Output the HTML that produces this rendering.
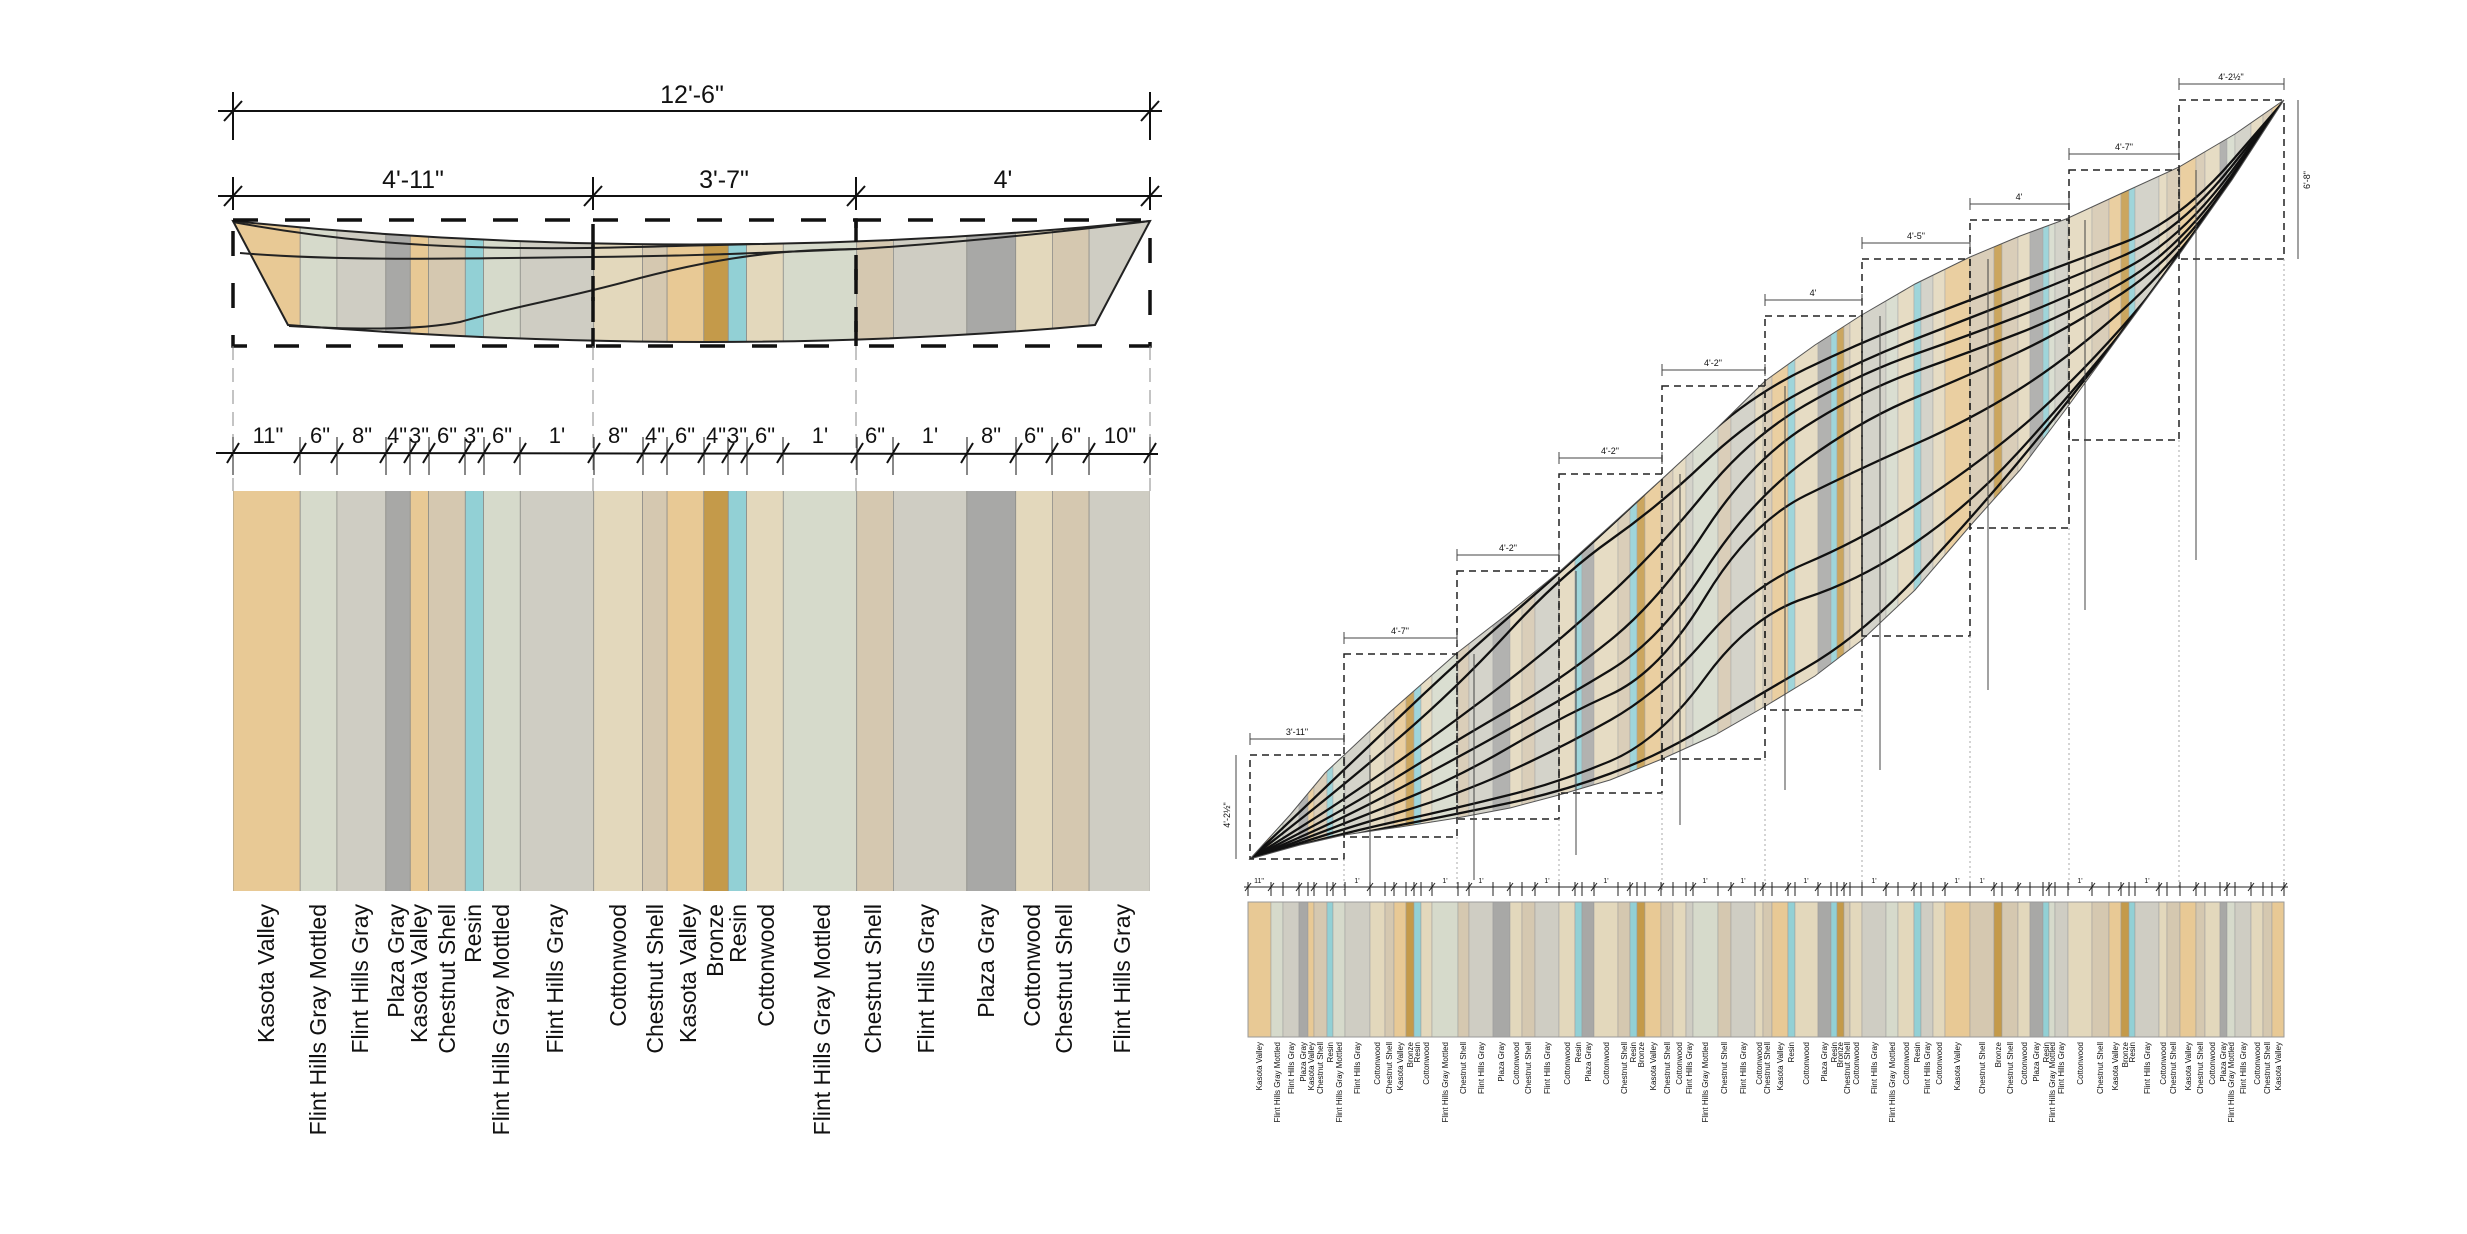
<!DOCTYPE html>
<html><head><meta charset="utf-8"><style>
html,body{margin:0;padding:0;background:#fff;}
svg{display:block;}
.kv{fill:#e8c995}.fm{fill:#d6dacb}.fg{fill:#cfcdc3}.pg{fill:#a8a8a6}.cs{fill:#d5c8b0}.r{fill:#92d0d5}.cw{fill:#e3d8bc}.b{fill:#c49a4a}
text{font-family:"Liberation Sans",Arial,sans-serif;fill:#111;}
.L{font-size:23px}.S{font-size:8px}.D{font-size:25px}.d{font-size:22px}.t{font-size:9px}.u{font-size:7px}
</style></head><body>
<svg width="2467" height="1234" viewBox="0 0 2467 1234" xmlns="http://www.w3.org/2000/svg">
<defs>
<g id="ls" stroke="#8f8f8a" stroke-width="0.8">
<rect class="kv" x="233" y="0" width="67.2" height="1234"/>
<rect class="fm" x="300.2" y="0" width="36.7" height="1234"/>
<rect class="fg" x="336.9" y="0" width="48.9" height="1234"/>
<rect class="pg" x="385.8" y="0" width="24.5" height="1234"/>
<rect class="kv" x="410.3" y="0" width="18.3" height="1234"/>
<rect class="cs" x="428.6" y="0" width="36.7" height="1234"/>
<rect class="r" x="465.3" y="0" width="18.3" height="1234"/>
<rect class="fm" x="483.6" y="0" width="36.7" height="1234"/>
<rect class="fg" x="520.3" y="0" width="73.4" height="1234"/>
<rect class="cw" x="593.7" y="0" width="48.9" height="1234"/>
<rect class="cs" x="642.6" y="0" width="24.5" height="1234"/>
<rect class="kv" x="667.1" y="0" width="36.7" height="1234"/>
<rect class="b" x="703.8" y="0" width="24.5" height="1234"/>
<rect class="r" x="728.3" y="0" width="18.3" height="1234"/>
<rect class="cw" x="746.6" y="0" width="36.7" height="1234"/>
<rect class="fm" x="783.3" y="0" width="73.4" height="1234"/>
<rect class="cs" x="856.7" y="0" width="36.7" height="1234"/>
<rect class="fg" x="893.4" y="0" width="73.4" height="1234"/>
<rect class="pg" x="966.8" y="0" width="48.9" height="1234"/>
<rect class="cw" x="1015.7" y="0" width="36.7" height="1234"/>
<rect class="cs" x="1052.4" y="0" width="36.7" height="1234"/>
<rect class="fg" x="1089.1" y="0" width="61.1" height="1234"/>
</g>
<g id="rs" stroke="#999" stroke-width="0.5">
<rect class="kv" x="1248" y="0" width="23" height="1234"/><rect class="fm" x="1271" y="0" width="12" height="1234"/><rect class="fg" x="1283" y="0" width="16" height="1234"/><rect class="pg" x="1299" y="0" width="9" height="1234"/><rect class="kv" x="1308" y="0" width="6" height="1234"/><rect class="cs" x="1314" y="0" width="13" height="1234"/><rect class="r" x="1327" y="0" width="6" height="1234"/><rect class="fm" x="1333" y="0" width="12" height="1234"/><rect class="fg" x="1345" y="0" width="25" height="1234"/><rect class="cw" x="1370" y="0" width="15" height="1234"/><rect class="cs" x="1385" y="0" width="9" height="1234"/><rect class="kv" x="1394" y="0" width="12" height="1234"/><rect class="b" x="1406" y="0" width="8" height="1234"/><rect class="r" x="1414" y="0" width="7" height="1234"/><rect class="cw" x="1421" y="0" width="11" height="1234"/><rect class="fm" x="1432" y="0" width="26" height="1234"/><rect class="cs" x="1458" y="0" width="11" height="1234"/><rect class="fg" x="1469" y="0" width="24" height="1234"/><rect class="pg" x="1493" y="0" width="17" height="1234"/><rect class="cw" x="1510" y="0" width="12" height="1234"/><rect class="cs" x="1522" y="0" width="13" height="1234"/><rect class="fg" x="1535" y="0" width="24" height="1234"/><rect class="cw" x="1559" y="0" width="16" height="1234"/><rect class="r" x="1575" y="0" width="7" height="1234"/><rect class="pg" x="1582" y="0" width="12" height="1234"/><rect class="cw" x="1594" y="0" width="24" height="1234"/><rect class="cs" x="1618" y="0" width="12" height="1234"/><rect class="r" x="1630" y="0" width="7" height="1234"/><rect class="b" x="1637" y="0" width="8" height="1234"/><rect class="kv" x="1645" y="0" width="16" height="1234"/><rect class="cs" x="1661" y="0" width="12" height="1234"/><rect class="cw" x="1673" y="0" width="13" height="1234"/><rect class="fg" x="1686" y="0" width="7" height="1234"/><rect class="fm" x="1693" y="0" width="25" height="1234"/><rect class="cs" x="1718" y="0" width="13" height="1234"/><rect class="fg" x="1731" y="0" width="24" height="1234"/><rect class="cw" x="1755" y="0" width="8" height="1234"/><rect class="cs" x="1763" y="0" width="9" height="1234"/><rect class="kv" x="1772" y="0" width="16" height="1234"/><rect class="r" x="1788" y="0" width="7" height="1234"/><rect class="cw" x="1795" y="0" width="23" height="1234"/><rect class="pg" x="1818" y="0" width="13" height="1234"/><rect class="r" x="1831" y="0" width="6" height="1234"/><rect class="b" x="1837" y="0" width="7" height="1234"/><rect class="cs" x="1844" y="0" width="6" height="1234"/><rect class="cw" x="1850" y="0" width="12" height="1234"/><rect class="fg" x="1862" y="0" width="24" height="1234"/><rect class="fm" x="1886" y="0" width="12" height="1234"/><rect class="cw" x="1898" y="0" width="16" height="1234"/><rect class="r" x="1914" y="0" width="7" height="1234"/><rect class="fg" x="1921" y="0" width="12" height="1234"/><rect class="cw" x="1933" y="0" width="12" height="1234"/><rect class="kv" x="1945" y="0" width="25" height="1234"/><rect class="cs" x="1970" y="0" width="24" height="1234"/><rect class="b" x="1994" y="0" width="8" height="1234"/><rect class="cs" x="2002" y="0" width="16" height="1234"/><rect class="cw" x="2018" y="0" width="12" height="1234"/><rect class="pg" x="2030" y="0" width="13" height="1234"/><rect class="r" x="2043" y="0" width="6" height="1234"/><rect class="fm" x="2049" y="0" width="6" height="1234"/><rect class="fg" x="2055" y="0" width="13" height="1234"/><rect class="cw" x="2068" y="0" width="24" height="1234"/><rect class="cs" x="2092" y="0" width="17" height="1234"/><rect class="kv" x="2109" y="0" width="12" height="1234"/><rect class="b" x="2121" y="0" width="8" height="1234"/><rect class="r" x="2129" y="0" width="6" height="1234"/><rect class="fg" x="2135" y="0" width="24" height="1234"/><rect class="cw" x="2159" y="0" width="8" height="1234"/><rect class="cs" x="2167" y="0" width="13" height="1234"/><rect class="kv" x="2180" y="0" width="16" height="1234"/><rect class="cs" x="2196" y="0" width="9" height="1234"/><rect class="cw" x="2205" y="0" width="15" height="1234"/><rect class="pg" x="2220" y="0" width="7" height="1234"/><rect class="fm" x="2227" y="0" width="8" height="1234"/><rect class="fg" x="2235" y="0" width="16" height="1234"/><rect class="cw" x="2251" y="0" width="12" height="1234"/><rect class="cs" x="2263" y="0" width="9" height="1234"/><rect class="kv" x="2272" y="0" width="12" height="1234"/>
</g>
<clipPath id="boat"><path d="M233,221 Q692,268 1150,221 L1095,325 Q720,359 288,325 Z"/></clipPath>
<clipPath id="lbar"><rect x="233" y="491" width="917" height="400"/></clipPath>
<clipPath id="rbar"><rect x="1248" y="902" width="1036" height="135"/></clipPath>
<clipPath id="lens"><path id="lensp" d="M1250,859 L1290,815 1325,773 1390,712 1457,653 1510,612 1559,572 1610,526 1662,479 1715,430 1765,381 1815,345 1860,316 1915,284 1970,257 2020,236 2066,219 2120,194 2179,167 2235,134 2284,100 L2232,180 2179,255 2120,335 2066,409 2020,470 1970,526 1915,590 1862,640 1815,676 1764,707 1715,735 1662,759 1610,780 1559,795 1510,808 1457,818 1400,827 1344,835 1300,845 Z"/></clipPath>
</defs>

<!-- LEFT -->
<g stroke="#111" stroke-width="2" fill="none">
<line x1="218" y1="111" x2="1162" y2="111"/>
<line x1="233" y1="92" x2="233" y2="140"/><line x1="1150" y1="92" x2="1150" y2="140"/>
<line x1="224" y1="121" x2="242" y2="101"/><line x1="1141" y1="121" x2="1159" y2="101"/>
<line x1="218" y1="196" x2="1162" y2="196"/>
<line x1="233" y1="177" x2="233" y2="210"/><line x1="593" y1="177" x2="593" y2="210"/><line x1="856" y1="177" x2="856" y2="210"/><line x1="1150" y1="177" x2="1150" y2="210"/>
<line x1="224" y1="206" x2="242" y2="186"/><line x1="584" y1="206" x2="602" y2="186"/><line x1="847" y1="206" x2="865" y2="186"/><line x1="1141" y1="206" x2="1159" y2="186"/>
</g>
<text class="D" x="692" y="103" text-anchor="middle">12'-6"</text>
<text class="D" x="413" y="188" text-anchor="middle">4'-11"</text>
<text class="D" x="724" y="188" text-anchor="middle">3'-7"</text>
<text class="D" x="1003" y="188" text-anchor="middle">4'</text>

<use href="#ls" clip-path="url(#boat)"/>
<g fill="none" stroke="#222" stroke-width="2">
<path d="M233,221 Q692,268 1150,221 L1095,325 Q720,359 288,325 Z"/>
<path d="M233,222 C330,240 420,247 520,248 C600,249 660,246 760,244"/>
<path d="M240,253 C350,262 480,258 592,257 C700,256 780,252 857,249 C960,243 1060,232 1150,221"/>
<path d="M289,326 C360,330 420,330 460,322 C520,305 560,300 640,278 C740,252 800,250 857,249"/>
</g>
<g fill="none" stroke="#111" stroke-width="3.5" stroke-dasharray="25,27">
<rect x="233" y="220" width="360" height="126"/>
<rect x="593" y="220" width="263" height="126"/>
<rect x="856" y="220" width="294" height="126"/>
</g>
<g stroke="#888" stroke-width="1" stroke-dasharray="14,8">
<line x1="233" y1="346" x2="233" y2="491"/><line x1="593" y1="346" x2="593" y2="491"/><line x1="856" y1="346" x2="856" y2="491"/><line x1="1150" y1="346" x2="1150" y2="491"/>
</g>
<g stroke="#111" stroke-width="2" fill="none">
<line x1="216" y1="453" x2="1158" y2="454"/>
<path d="M233,437V475M300,437V475M337,437V475M386,437V475M410,437V475M429,437V475M465,437V475M484,437V475M520,437V475M594,437V475M643,437V475M667,437V475M704,437V475M728,437V475M747,437V475M783,437V475M857,437V475M893,437V475M967,437V475M1016,437V475M1052,437V475M1089,437V475M1150,437V475" stroke-width="1"/>
<path d="M227,463l12,-20M294,463l12,-20M331,463l12,-20M380,463l12,-20M404,463l12,-20M423,463l12,-20M459,463l12,-20M478,463l12,-20M514,463l12,-20M588,463l12,-20M637,463l12,-20M661,463l12,-20M698,463l12,-20M722,463l12,-20M741,463l12,-20M777,463l12,-20M851,463l12,-20M887,463l12,-20M961,463l12,-20M1010,463l12,-20M1046,463l12,-20M1083,463l12,-20M1144,463l12,-20"/>
</g>
<g class="d" text-anchor="middle">
<text x="268" y="443">11"</text><text x="320" y="443">6"</text><text x="362" y="443">8"</text><text x="397" y="443">4"</text><text x="419" y="443">3"</text><text x="447" y="443">6"</text><text x="474" y="443">3"</text><text x="502" y="443">6"</text><text x="557" y="443">1'</text>
<text x="618" y="443">8"</text><text x="655" y="443">4"</text><text x="685" y="443">6"</text><text x="716" y="443">4"</text><text x="737" y="443">3"</text><text x="765" y="443">6"</text><text x="820" y="443">1'</text>
<text x="875" y="443">6"</text><text x="930" y="443">1'</text><text x="991" y="443">8"</text><text x="1034" y="443">6"</text><text x="1071" y="443">6"</text><text x="1120" y="443">10"</text>
</g>
<use href="#ls" clip-path="url(#lbar)"/>
<g class="L" text-anchor="end">
<text transform="translate(274,904) rotate(-90)">Kasota Valley</text>
<text transform="translate(326,904) rotate(-90)">Flint Hills Gray Mottled</text>
<text transform="translate(368,904) rotate(-90)">Flint Hills Gray</text>
<text transform="translate(404,904) rotate(-90)">Plaza Gray</text>
<text transform="translate(427,904) rotate(-90)">Kasota Valley</text>
<text transform="translate(455,904) rotate(-90)">Chestnut Shell</text>
<text transform="translate(481,904) rotate(-90)">Resin</text>
<text transform="translate(509,904) rotate(-90)">Flint Hills Gray Mottled</text>
<text transform="translate(563,904) rotate(-90)">Flint Hills Gray</text>
<text transform="translate(626,904) rotate(-90)">Cottonwood</text>
<text transform="translate(663,904) rotate(-90)">Chestnut Shell</text>
<text transform="translate(696,904) rotate(-90)">Kasota Valley</text>
<text transform="translate(723,904) rotate(-90)">Bronze</text>
<text transform="translate(746,904) rotate(-90)">Resin</text>
<text transform="translate(774,904) rotate(-90)">Cottonwood</text>
<text transform="translate(830,904) rotate(-90)">Flint Hills Gray Mottled</text>
<text transform="translate(881,904) rotate(-90)">Chestnut Shell</text>
<text transform="translate(934,904) rotate(-90)">Flint Hills Gray</text>
<text transform="translate(994,904) rotate(-90)">Plaza Gray</text>
<text transform="translate(1040,904) rotate(-90)">Cottonwood</text>
<text transform="translate(1072,904) rotate(-90)">Chestnut Shell</text>
<text transform="translate(1130,904) rotate(-90)">Flint Hills Gray</text>
</g>

<!-- RIGHT -->
<g opacity="0.88"><use href="#rs" clip-path="url(#lens)"/></g>
<g fill="none" stroke="#111" stroke-width="2.3" clip-path="url(#lens)">
<path d="M1250,859 L1297,814.5 Q1344,770 1400.5,716 Q1457,662 1509,617 Q1561,572 1610.5,526 Q1660,480 1705,438 Q1750,396 1805.5,369 Q1861,342 1915.5,321 Q1970,300 2018,282 Q2066,264 2122.5,243 Q2179,222 2231.5,161.5 L2284,101"/>
<path d="M1250,859 L1297,822 Q1344,785 1400.5,736.5 Q1457,688 1509,631.5 Q1561,575 1610.5,540 Q1660,505 1705,462 Q1750,419 1805.5,389.5 Q1861,360 1915.5,339 Q1970,318 2018,299 Q2066,280 2122.5,256 Q2179,232 2231.5,166.5 L2284,101"/>
<path d="M1250,859 L1297,829.5 Q1344,800 1400.5,760 Q1457,720 1509,680 Q1561,640 1610.5,594 Q1660,548 1705,492.5 Q1750,437 1805.5,405 Q1861,373 1915.5,354 Q1970,335 2018,316.5 Q2066,298 2122.5,270 Q2179,242 2231.5,171.5 L2284,101"/>
<path d="M1250,859 L1297,834.5 Q1344,810 1400.5,775 Q1457,740 1509,710 Q1561,680 1610.5,640 Q1660,600 1705,531 Q1750,462 1805.5,426.5 Q1861,391 1915.5,371.5 Q1970,352 2018,333.5 Q2066,315 2122.5,282.5 Q2179,250 2231.5,175.5 L2284,101"/>
<path d="M1250,859 L1297,838.5 Q1344,818 1400.5,788 Q1457,758 1509,729 Q1561,700 1610.5,670 Q1660,640 1705,570.5 Q1750,501 1805.5,460.5 Q1861,420 1915.5,397.5 Q1970,375 2018,352.5 Q2066,330 2122.5,293 Q2179,256 2231.5,178.5 L2284,101"/>
<path d="M1250,859 L1297,841.5 Q1344,824 1400.5,801 Q1457,778 1509,747.5 Q1561,717 1610.5,694.5 Q1660,672 1705,597.5 Q1750,523 1805.5,495.5 Q1861,468 1915.5,444 Q1970,420 2018,390 Q2066,360 2122.5,310 Q2179,260 2231.5,180.5 L2284,101"/>
<path d="M1250,859 L1297,844 Q1344,829 1400.5,812 Q1457,795 1509,771.5 Q1561,748 1610.5,720 Q1660,692 1705,639.5 Q1750,587 1805.5,563.5 Q1861,540 1915.5,505 Q1970,470 2018,430 Q2066,390 2122.5,326.5 Q2179,263 2231.5,182 L2284,101"/>
<path d="M1250,859 L1297,846 Q1344,833 1400.5,820.5 Q1457,808 1509,795 Q1561,782 1610.5,761 Q1660,740 1705,678 Q1750,616 1805.5,598 Q1861,580 1915.5,542.5 Q1970,505 2018,452.5 Q2066,400 2122.5,331 Q2179,262 2231.5,181.5 L2284,101"/>
<path d="M1250,859 L1297,847.5 Q1344,836 1400.5,825 Q1457,814 1509,803 Q1561,792 1610.5,773.5 Q1660,755 1705,727.5 Q1750,700 1805.5,668 Q1861,636 1915.5,578 Q1970,520 2018,462.5 Q2066,405 2122.5,330.5 Q2179,256 2231.5,178.5 L2284,101"/>
</g>
<use href="#lensp" fill="none" stroke="#555" stroke-width="1"/>
<g fill="none" stroke="#222" stroke-width="1.5" stroke-dasharray="7,5">
<rect x="1250" y="755" width="94" height="104"/>
<rect x="1344" y="654" width="113" height="183"/>
<rect x="1457" y="571" width="102" height="248"/>
<rect x="1559" y="474" width="103" height="319"/>
<rect x="1662" y="386" width="103" height="373"/>
<rect x="1765" y="316" width="97" height="394"/>
<rect x="1862" y="259" width="108" height="377"/>
<rect x="1970" y="220" width="99" height="308"/>
<rect x="2069" y="170" width="110" height="270"/>
<rect x="2179" y="100" width="105" height="159"/>
</g>
<g stroke="#444" stroke-width="1" fill="none">
<path d="M1250,739H1344M1344,638H1457M1457,555H1559M1559,458H1662M1662,370H1765M1765,300H1862M1862,243H1970M1970,204H2069M2069,154H2179M2179,84H2284"/>
<path d="M1250,733V745M1344,733V745M1344,632V644M1457,632V644M1457,549V561M1559,549V561M1559,452V464M1662,452V464M1662,364V376M1765,364V376M1765,294V306M1862,294V306M1862,237V249M1970,237V249M1970,198V210M2069,198V210M2069,148V160M2179,148V160M2179,78V90M2284,78V90"/>
<path d="M1236,755V859M2298,100V259M1370,755V895M1474,654V880M1576,571V855M1680,474V825M1785,386V790M1880,316V770M1988,259V690M2085,220V610M2196,170V560"/>
</g>
<g stroke="#aaa" stroke-width="1" stroke-dasharray="2,3">
<path d="M1344,859V890M1457,837V890M1559,819V890M1662,793V890M1765,759V890M1862,710V890M1970,636V890M2069,528V890M2179,440V890M2284,259V890"/>
</g>
<g class="t" text-anchor="middle">
<text x="1297" y="735">3'-11"</text><text x="1400" y="634">4'-7"</text><text x="1508" y="551">4'-2"</text><text x="1610" y="454">4'-2"</text><text x="1713" y="366">4'-2"</text><text x="1813" y="296">4'</text><text x="1916" y="239">4'-5"</text><text x="2019" y="200">4'</text><text x="2124" y="150">4'-7"</text><text x="2231" y="80">4'-2½"</text>
<text transform="translate(1230,815) rotate(-90)">4'-2½"</text><text transform="translate(2310,180) rotate(-90)">6'-8"</text>
</g>
<g stroke="#222" stroke-width="1" fill="none">
<line x1="1244" y1="887" x2="2288" y2="887"/>
<path d="M1248,882V896M1271,882V896M1283,882V896M1299,882V896M1308,882V896M1314,882V896M1327,882V896M1333,882V896M1345,882V896M1370,882V896M1385,882V896M1394,882V896M1406,882V896M1414,882V896M1421,882V896M1432,882V896M1458,882V896M1469,882V896M1493,882V896M1510,882V896M1522,882V896M1535,882V896M1559,882V896M1575,882V896M1582,882V896M1594,882V896M1618,882V896M1630,882V896M1637,882V896M1645,882V896M1661,882V896M1673,882V896M1686,882V896M1693,882V896M1718,882V896M1731,882V896M1755,882V896M1763,882V896M1772,882V896M1788,882V896M1795,882V896M1818,882V896M1831,882V896M1837,882V896M1844,882V896M1850,882V896M1862,882V896M1886,882V896M1898,882V896M1914,882V896M1921,882V896M1933,882V896M1945,882V896M1970,882V896M1994,882V896M2002,882V896M2018,882V896M2030,882V896M2043,882V896M2049,882V896M2055,882V896M2068,882V896M2092,882V896M2109,882V896M2121,882V896M2129,882V896M2135,882V896M2159,882V896M2167,882V896M2180,882V896M2196,882V896M2205,882V896M2220,882V896M2227,882V896M2235,882V896M2251,882V896M2263,882V896M2272,882V896M2284,882V896"/>
<path d="M1245,891l6,-8M1268,891l6,-8M1296,891l6,-8M1311,891l6,-8M1330,891l6,-8M1367,891l6,-8M1391,891l6,-8M1411,891l6,-8M1429,891l6,-8M1466,891l6,-8M1507,891l6,-8M1532,891l6,-8M1572,891l6,-8M1591,891l6,-8M1627,891l6,-8M1658,891l6,-8M1690,891l6,-8M1728,891l6,-8M1760,891l6,-8M1785,891l6,-8M1815,891l6,-8M1841,891l6,-8M1883,891l6,-8M1911,891l6,-8M1942,891l6,-8M1991,891l6,-8M2015,891l6,-8M2046,891l6,-8M2089,891l6,-8M2118,891l6,-8M2156,891l6,-8M2193,891l6,-8M2224,891l6,-8M2248,891l6,-8M2281,891l6,-8"/>
</g>
<g class="u" text-anchor="middle"><text x="1259" y="883">11"</text><text x="1357" y="883">1'</text><text x="1445" y="883">1'</text><text x="1481" y="883">1'</text><text x="1547" y="883">1'</text><text x="1606" y="883">1'</text><text x="1705" y="883">1'</text><text x="1743" y="883">1'</text><text x="1806" y="883">1'</text><text x="1874" y="883">1'</text><text x="1957" y="883">1'</text><text x="1982" y="883">1'</text><text x="2080" y="883">1'</text><text x="2147" y="883">1'</text></g>
<use href="#rs" clip-path="url(#rbar)"/>
<rect x="1248" y="902" width="1036" height="135" fill="none" stroke="#999" stroke-width="1"/>
<g class="S" text-anchor="end">
<text transform="translate(1262,1042) rotate(-90)">Kasota Valley</text>
<text transform="translate(1280,1042) rotate(-90)">Flint Hills Gray Mottled</text>
<text transform="translate(1294,1042) rotate(-90)">Flint Hills Gray</text>
<text transform="translate(1306,1042) rotate(-90)">Plaza Gray</text>
<text transform="translate(1314,1042) rotate(-90)">Kasota Valley</text>
<text transform="translate(1323,1042) rotate(-90)">Chestnut Shell</text>
<text transform="translate(1333,1042) rotate(-90)">Resin</text>
<text transform="translate(1342,1042) rotate(-90)">Flint Hills Gray Mottled</text>
<text transform="translate(1360,1042) rotate(-90)">Flint Hills Gray</text>
<text transform="translate(1380,1042) rotate(-90)">Cottonwood</text>
<text transform="translate(1392,1042) rotate(-90)">Chestnut Shell</text>
<text transform="translate(1403,1042) rotate(-90)">Kasota Valley</text>
<text transform="translate(1413,1042) rotate(-90)">Bronze</text>
<text transform="translate(1420,1042) rotate(-90)">Resin</text>
<text transform="translate(1429,1042) rotate(-90)">Cottonwood</text>
<text transform="translate(1448,1042) rotate(-90)">Flint Hills Gray Mottled</text>
<text transform="translate(1466,1042) rotate(-90)">Chestnut Shell</text>
<text transform="translate(1484,1042) rotate(-90)">Flint Hills Gray</text>
<text transform="translate(1504,1042) rotate(-90)">Plaza Gray</text>
<text transform="translate(1519,1042) rotate(-90)">Cottonwood</text>
<text transform="translate(1531,1042) rotate(-90)">Chestnut Shell</text>
<text transform="translate(1550,1042) rotate(-90)">Flint Hills Gray</text>
<text transform="translate(1570,1042) rotate(-90)">Cottonwood</text>
<text transform="translate(1581,1042) rotate(-90)">Resin</text>
<text transform="translate(1591,1042) rotate(-90)">Plaza Gray</text>
<text transform="translate(1609,1042) rotate(-90)">Cottonwood</text>
<text transform="translate(1627,1042) rotate(-90)">Chestnut Shell</text>
<text transform="translate(1636,1042) rotate(-90)">Resin</text>
<text transform="translate(1644,1042) rotate(-90)">Bronze</text>
<text transform="translate(1656,1042) rotate(-90)">Kasota Valley</text>
<text transform="translate(1670,1042) rotate(-90)">Chestnut Shell</text>
<text transform="translate(1682,1042) rotate(-90)">Cottonwood</text>
<text transform="translate(1692,1042) rotate(-90)">Flint Hills Gray</text>
<text transform="translate(1708,1042) rotate(-90)">Flint Hills Gray Mottled</text>
<text transform="translate(1727,1042) rotate(-90)">Chestnut Shell</text>
<text transform="translate(1746,1042) rotate(-90)">Flint Hills Gray</text>
<text transform="translate(1762,1042) rotate(-90)">Cottonwood</text>
<text transform="translate(1770,1042) rotate(-90)">Chestnut Shell</text>
<text transform="translate(1783,1042) rotate(-90)">Kasota Valley</text>
<text transform="translate(1794,1042) rotate(-90)">Resin</text>
<text transform="translate(1809,1042) rotate(-90)">Cottonwood</text>
<text transform="translate(1827,1042) rotate(-90)">Plaza Gray</text>
<text transform="translate(1837,1042) rotate(-90)">Resin</text>
<text transform="translate(1843,1042) rotate(-90)">Bronze</text>
<text transform="translate(1850,1042) rotate(-90)">Chestnut Shell</text>
<text transform="translate(1859,1042) rotate(-90)">Cottonwood</text>
<text transform="translate(1877,1042) rotate(-90)">Flint Hills Gray</text>
<text transform="translate(1895,1042) rotate(-90)">Flint Hills Gray Mottled</text>
<text transform="translate(1909,1042) rotate(-90)">Cottonwood</text>
<text transform="translate(1920,1042) rotate(-90)">Resin</text>
<text transform="translate(1930,1042) rotate(-90)">Flint Hills Gray</text>
<text transform="translate(1942,1042) rotate(-90)">Cottonwood</text>
<text transform="translate(1960,1042) rotate(-90)">Kasota Valley</text>
<text transform="translate(1985,1042) rotate(-90)">Chestnut Shell</text>
<text transform="translate(2001,1042) rotate(-90)">Bronze</text>
<text transform="translate(2013,1042) rotate(-90)">Chestnut Shell</text>
<text transform="translate(2027,1042) rotate(-90)">Cottonwood</text>
<text transform="translate(2039,1042) rotate(-90)">Plaza Gray</text>
<text transform="translate(2049,1042) rotate(-90)">Resin</text>
<text transform="translate(2055,1042) rotate(-90)">Flint Hills Gray Mottled</text>
<text transform="translate(2064,1042) rotate(-90)">Flint Hills Gray</text>
<text transform="translate(2083,1042) rotate(-90)">Cottonwood</text>
<text transform="translate(2103,1042) rotate(-90)">Chestnut Shell</text>
<text transform="translate(2118,1042) rotate(-90)">Kasota Valley</text>
<text transform="translate(2128,1042) rotate(-90)">Bronze</text>
<text transform="translate(2135,1042) rotate(-90)">Resin</text>
<text transform="translate(2150,1042) rotate(-90)">Flint Hills Gray</text>
<text transform="translate(2166,1042) rotate(-90)">Cottonwood</text>
<text transform="translate(2176,1042) rotate(-90)">Chestnut Shell</text>
<text transform="translate(2191,1042) rotate(-90)">Kasota Valley</text>
<text transform="translate(2203,1042) rotate(-90)">Chestnut Shell</text>
<text transform="translate(2215,1042) rotate(-90)">Cottonwood</text>
<text transform="translate(2226,1042) rotate(-90)">Plaza Gray</text>
<text transform="translate(2234,1042) rotate(-90)">Flint Hills Gray Mottled</text>
<text transform="translate(2246,1042) rotate(-90)">Flint Hills Gray</text>
<text transform="translate(2260,1042) rotate(-90)">Cottonwood</text>
<text transform="translate(2270,1042) rotate(-90)">Chestnut Shell</text>
<text transform="translate(2281,1042) rotate(-90)">Kasota Valley</text>
</g>
</svg>
</body></html>
